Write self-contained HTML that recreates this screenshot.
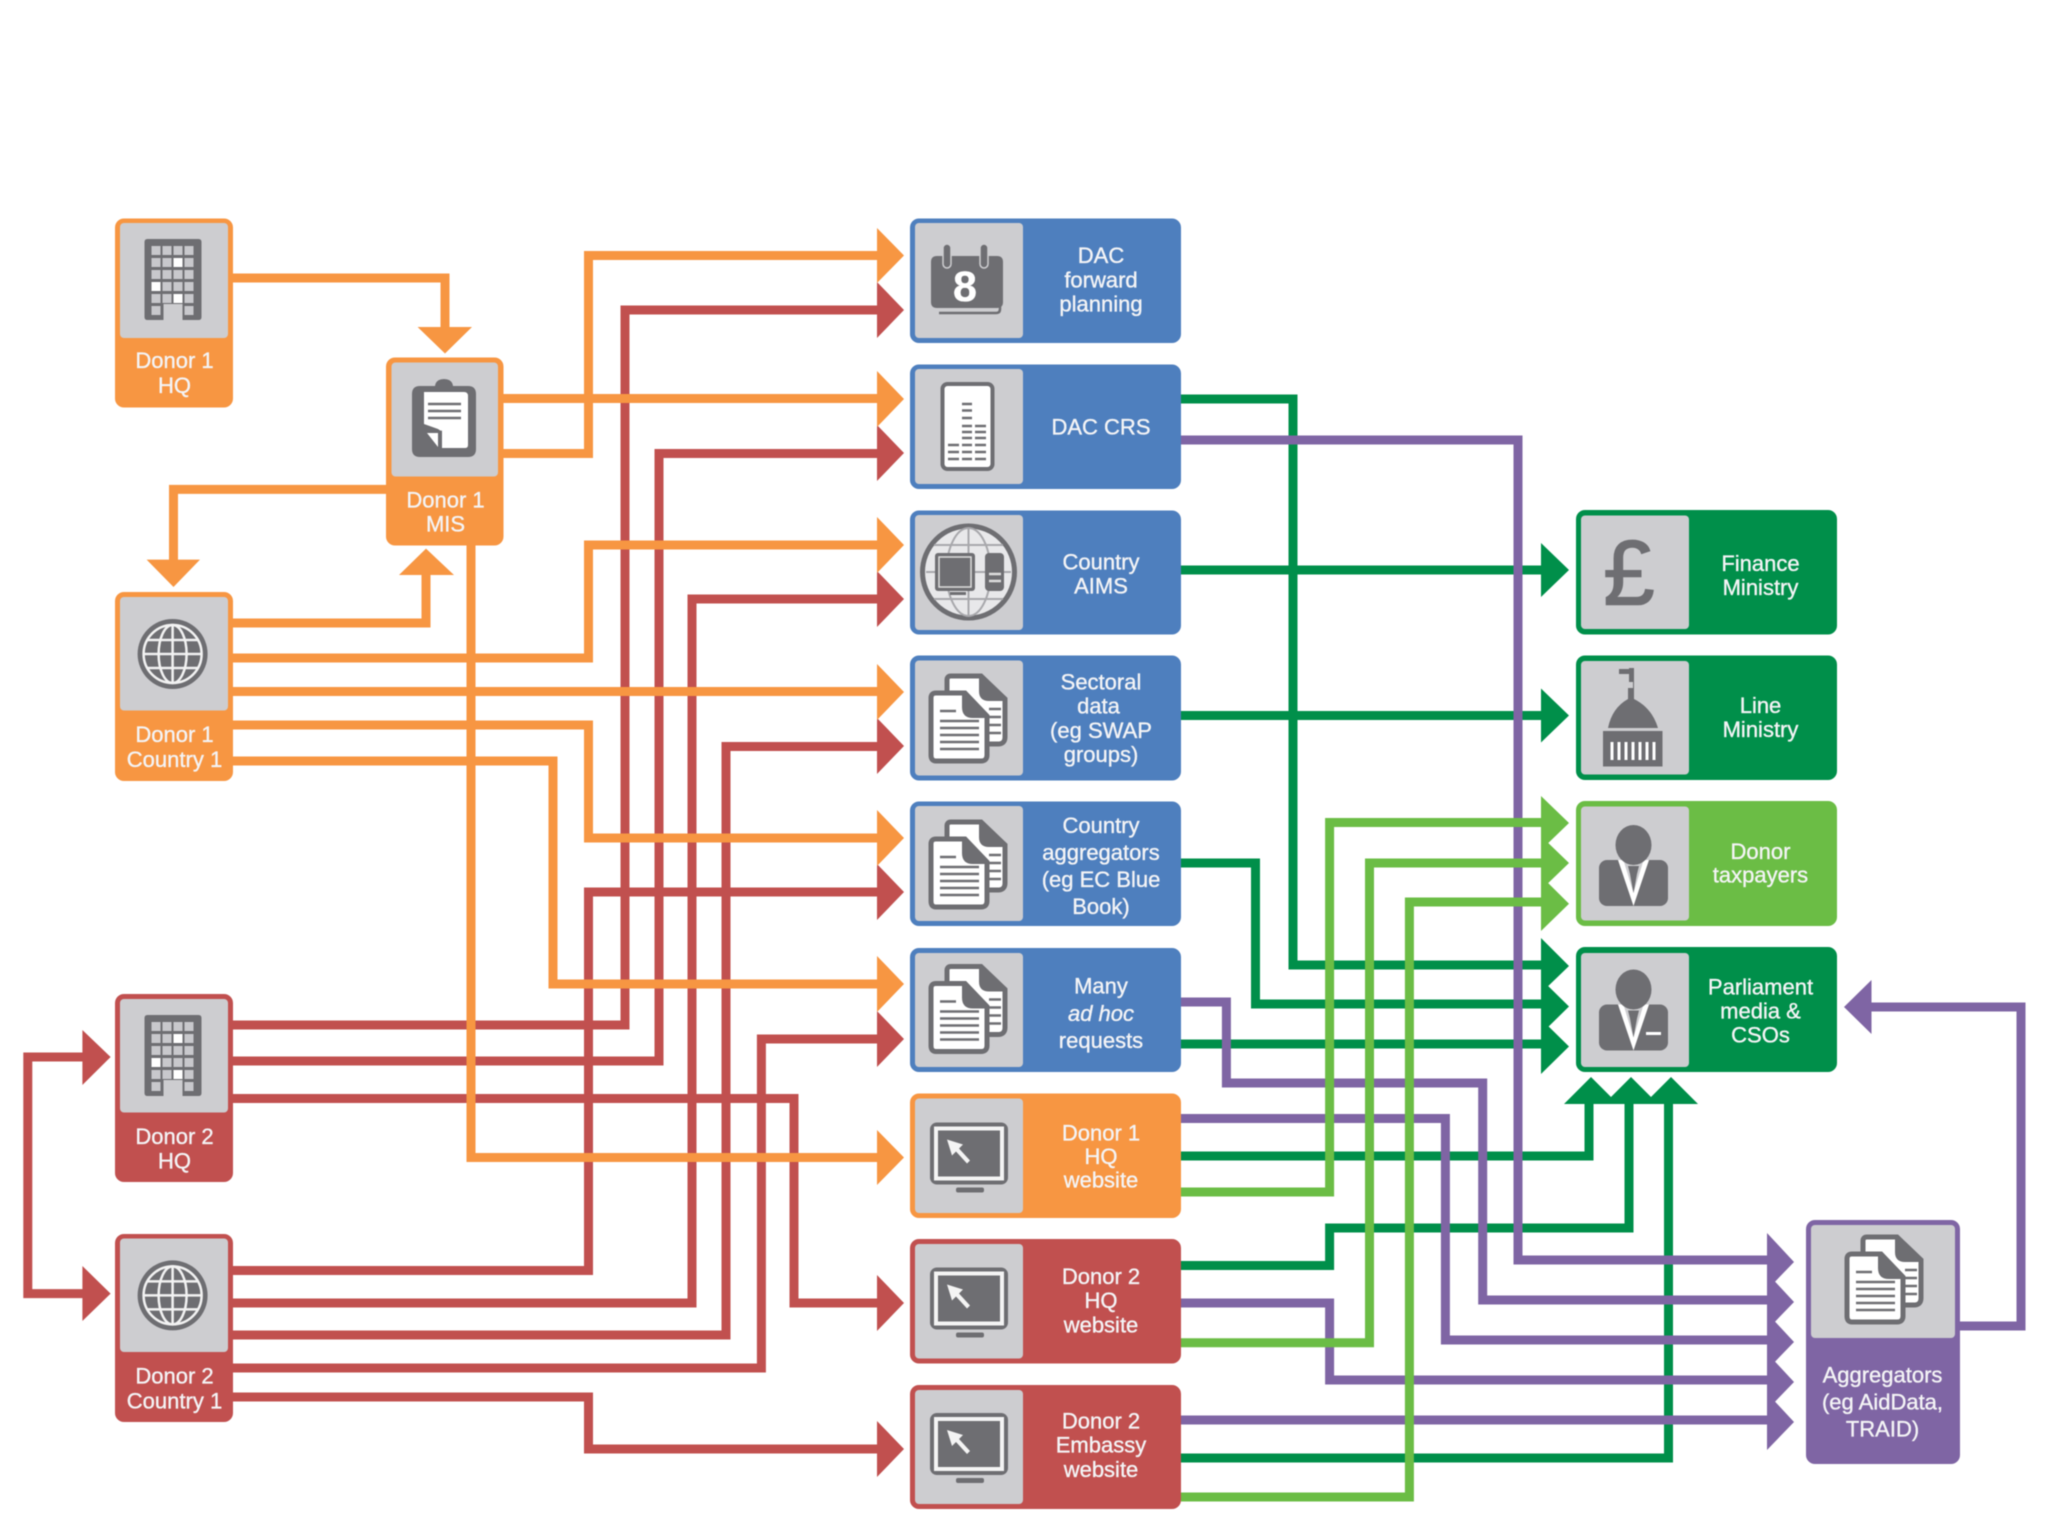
<!DOCTYPE html>
<html><head><meta charset="utf-8"><title>Donor data flows</title>
<style>
html,body{margin:0;padding:0;background:#fff;width:2048px;height:1536px;overflow:hidden}
svg{display:block;filter:blur(.55px)}
text{font-family:"Liberation Sans",sans-serif;font-size:22px;fill:#f4f4f6;stroke:#f4f4f6;stroke-width:.35;text-anchor:middle}
.l{fill:none;stroke-width:9;stroke-linejoin:miter}
</style></head><body>
<svg width="2048" height="1536" viewBox="0 0 2048 1536" xmlns="http://www.w3.org/2000/svg">
<defs>
<g id="bld"><path d="M3 0H54Q57 0 57 3V78Q57 81 54 81H38V65H19V81H3Q0 81 0 78V3Q0 0 3 0Z" fill="#6e6e72"/>
<g fill="#c8c8cc"><rect x="7" y="7" width="9" height="9"/><rect x="18" y="7" width="9" height="9"/><rect x="29" y="7" width="9" height="9"/><rect x="40" y="7" width="9" height="9"/><rect x="7" y="19" width="9" height="9"/><rect x="18" y="19" width="9" height="9"/><rect x="29" y="19" width="9" height="9" fill="#fff"/><rect x="40" y="19" width="9" height="9"/><rect x="7" y="31" width="9" height="9"/><rect x="18" y="31" width="9" height="9"/><rect x="29" y="31" width="9" height="9"/><rect x="40" y="31" width="9" height="9"/><rect x="7" y="43" width="9" height="9" fill="#fff"/><rect x="18" y="43" width="9" height="9"/><rect x="29" y="43" width="9" height="9"/><rect x="40" y="43" width="9" height="9"/><rect x="7" y="55" width="9" height="9"/><rect x="18" y="55" width="9" height="9"/><rect x="29" y="55" width="9" height="9" fill="#fff"/><rect x="40" y="55" width="9" height="9"/><rect x="7" y="67" width="9" height="9"/><rect x="40" y="67" width="9" height="9"/></g></g>
<g id="glb"><circle r="35" fill="#6e6e72"/><circle r="29" fill="#6e6e72" stroke="#f2f2f2" stroke-width="2.5"/><g fill="none" stroke="#f2f2f2" stroke-width="2.5"><path d="M0-29V29M-29 0H29M-25-14H25M-25 14H25"/><ellipse rx="14" ry="29"/></g></g>
<g id="doc"><path d="M22 1H52L76 24V62Q76 69 69 69H22Q18 69 18 64V5Q18 1 22 1Z" fill="#fff" stroke="#6e6e72" stroke-width="5"/><path d="M50 0L77 26H60Q50 26 50 16Z" fill="#6e6e72"/><path d="M60 34H72M60 42H72M60 50H72M60 58H72" stroke="#6e6e72" stroke-width="2.5"/>
<path d="M7 18H36L58 41V80Q58 86 52 86H7Q2 86 2 80V23Q2 18 7 18Z" fill="#fff" stroke="#6e6e72" stroke-width="5"/><path d="M33 17L59 43H44Q33 43 33 32Z" fill="#6e6e72"/><path d="M11 36H27M11 46H50M11 53H50M11 60H50M11 67H50M11 74H50" stroke="#6e6e72" stroke-width="2.5"/></g>
<g id="mon"><rect width="78" height="62" rx="7" fill="#6e6e72"/><rect x="6" y="6" width="66" height="50" fill="#6e6e72" stroke="#f4f4f4" stroke-width="4"/><path d="M17 17L33 22L29 26L40 38L37 41L26 29L22 33Z" fill="#f4f4f4"/><rect x="26" y="65" width="28" height="5" rx="2" fill="#6e6e72"/></g>
<g id="per"><rect x="0" y="15" width="69" height="46" rx="8" fill="#6e6e72"/><path d="M19 15H50L34.5 61Z" fill="#fff"/><path d="M25 17H44L34.5 48Z" fill="#cdcdd0"/><path d="M29 21H40L38 29L34.5 48L31 29Z" fill="#6e6e72"/><ellipse cx="34.5" cy="0" rx="18" ry="20" fill="#6e6e72"/></g>
</defs>
<rect width="2048" height="1536" fill="#fff"/>

<!-- dark green connectors -->
<g class="l" stroke="#008f4a">
<path d="M1181 399H1293V965H1545"/><path d="M1181 570H1545"/><path d="M1181 715.500H1545"/>
<path d="M1181 863H1255.500V1004H1545"/><path d="M1181 1044H1545"/>
<path d="M1181 1156H1589V1100"/><path d="M1181 1265.500H1329.600V1228H1629V1100"/><path d="M1181 1458H1668.500V1100"/>
</g>
<g fill="#008f4a">
<polygon points="1541,543 1569,570 1541,597"/><polygon points="1541,688.500 1569,715.500 1541,742.500"/>
<polygon points="1541,938 1569,966 1541,993"/><polygon points="1541,979 1569,1006.500 1541,1034"/><polygon points="1541,1019 1569,1046.500 1541,1074"/>
<polygon points="1564,1104 1591,1077 1618,1104"/><polygon points="1604,1104 1631,1077 1658,1104"/><polygon points="1644,1104 1671,1077 1698,1104"/>
</g>
<!-- purple connectors -->
<g class="l" stroke="#7f65a4">
<path d="M1181 440H1518V1260H1770"/><path d="M1181 1002H1226.400V1083H1482.700V1300H1770"/><path d="M1181 1118.500H1445.400V1340H1770"/>
<path d="M1181 1303H1329.600V1380H1770"/><path d="M1181 1420H1770"/><path d="M1960 1326H2021V1007H1868"/>
</g>
<g fill="#7f65a4">
<polygon points="1767,1233 1794,1262 1767,1290"/><polygon points="1767,1273 1794,1302 1767,1330"/><polygon points="1767,1313 1794,1342 1767,1370"/><polygon points="1767,1353 1794,1382 1767,1410"/><polygon points="1767,1393 1794,1422 1767,1450"/>
<polygon points="1871.500,980 1844,1007 1871.500,1034"/>
</g>
<!-- light green connectors -->
<g class="l" stroke="#6bbd45">
<path d="M1181 1192H1329.600V822.500H1545"/><path d="M1181 1342.700H1369.500V863H1545"/><path d="M1181 1497H1409.400V902H1545"/>
</g>
<g fill="#6bbd45">
<polygon points="1541,796 1569,823 1541,850"/><polygon points="1541,836 1569,863 1541,890"/><polygon points="1541,876 1569,903.700 1541,931"/>
</g>
<!-- red connectors -->
<g class="l" stroke="#c1504f">
<path d="M233 1025H625V310H880"/><path d="M233 1061H659V453.500H880"/><path d="M233 1098.500H794V1303H880"/>
<path d="M233 1270.500H588.500V892H880"/><path d="M233 1303H692V599H880"/><path d="M233 1335H726V746.500H880"/><path d="M233 1368H761.400V1039H880"/><path d="M233 1397H588.500V1449H880"/>
<path d="M88 1057H27.800V1293.600H88"/>
</g>
<g fill="#c1504f">
<polygon points="877,282 904,310 877,338"/><polygon points="877,425 904,453 877,481"/><polygon points="877,571 904,599 877,627"/><polygon points="877,718 904,746 877,774"/><polygon points="877,864 904,892 877,920"/><polygon points="877,1011 904,1039 877,1067"/><polygon points="877,1275 904,1303 877,1331"/><polygon points="877,1421 904,1449 877,1477"/>
<polygon points="82.400,1030 110.600,1057 82.400,1085"/><polygon points="82.400,1266 110.600,1293.600 82.400,1321"/>
</g>
<!-- orange connectors -->
<g class="l" stroke="#f79642">
<path d="M233 278H445V330"/><path d="M503 398.500H880"/><path d="M503 453.500H588.500V255.500H880"/>
<path d="M386 489.400H173.500V562"/><path d="M233 623H426V572"/>
<path d="M233 658H588.500V545H880"/><path d="M233 691.500H880"/><path d="M233 725H588.500V838H880"/><path d="M233 761H553V984H880"/>
<path d="M471 545V1157.500H880"/>
</g>
<g fill="#f79642">
<polygon points="417.600,327 445,353.500 472,327"/><polygon points="146.600,559.600 173.500,587 200,559.600"/><polygon points="399,575 426,548.600 454,575"/>
<polygon points="877,228 904,255.500 877,283"/><polygon points="877,371 904,399 877,427"/><polygon points="877,517 904,545 877,573"/><polygon points="877,664 904,692 877,720"/><polygon points="877,810 904,838 877,866"/><polygon points="877,956 904,984 877,1012"/><polygon points="877,1130 904,1157.500 877,1185"/>
</g>

<!-- left nodes -->
<rect x="115" y="218.500" width="118" height="189" rx="9" fill="#f79642"/><rect x="120" y="223" width="108" height="115" rx="4" fill="#cdcdd0"/>
<use href="#bld" x="144.500" y="239"/>
<text x="174.500" y="368">Donor 1</text><text x="174.500" y="393">HQ</text>

<rect x="386" y="357.500" width="117.500" height="188" rx="9" fill="#f79642"/><rect x="391.500" y="362.500" width="106.500" height="114" rx="4" fill="#cdcdd0"/>
<path d="M420 386H435Q436 379 444 379Q452 379 453 386H468Q476 386 476 394V449Q476 457 468 457H420Q412 457 412 449V394Q412 386 420 386Z" fill="#6e6e72"/>
<path d="M424 392H464Q468 392 468 396V445Q468 448 465 448H442V430Q442 432 438 429L424 424V392Z" fill="#fff"/><path d="M427 433L438 433L438 447Z" fill="#fff"/>
<path d="M428 404H461M428 411H461M428 418H461" stroke="#6e6e72" stroke-width="2.500"/>
<text x="445.500" y="507.500">Donor 1</text><text x="445.500" y="531.500">MIS</text>

<rect x="115" y="592" width="118" height="189" rx="9" fill="#f79642"/><rect x="120" y="597" width="108" height="113.500" rx="4" fill="#cdcdd0"/>
<use href="#glb" x="172.600" y="654"/>
<text x="174.500" y="742">Donor 1</text><text x="174.500" y="767">Country 1</text>

<rect x="115" y="994" width="118" height="188" rx="9" fill="#c1504f"/><rect x="120" y="999" width="108" height="113.500" rx="4" fill="#cdcdd0"/>
<use href="#bld" x="144.500" y="1015"/>
<text x="174.500" y="1144">Donor 2</text><text x="174.500" y="1168.500">HQ</text>

<rect x="115" y="1234" width="118" height="188" rx="9" fill="#c1504f"/><rect x="120" y="1238.500" width="108" height="113.500" rx="4" fill="#cdcdd0"/>
<use href="#glb" x="172.600" y="1295.400"/>
<text x="174.500" y="1383.500">Donor 2</text><text x="174.500" y="1408.500">Country 1</text>

<!-- middle nodes -->
<rect x="910" y="218.500" width="271" height="124.500" rx="9" fill="#4e7fbe"/><rect x="915" y="223" width="108" height="115" rx="4" fill="#cdcdd0"/>
<path d="M936 263H1000V309Q1000 313 996 313H939" fill="none" stroke="#6e6e72" stroke-width="2.500"/>
<path d="M937 256H997Q1003 256 1003 262V302Q1003 308 997 308H937Q931 308 931 302V262Q931 256 937 256Z" fill="#6e6e72"/>
<rect x="943" y="244" width="8" height="24" rx="4" fill="#6e6e72" stroke="#cdcdd0" stroke-width="1.500"/><rect x="980" y="244" width="8" height="24" rx="4" fill="#6e6e72" stroke="#cdcdd0" stroke-width="1.500"/>
<text x="965" y="301" style="font-size:43px;font-weight:bold;fill:#fff;stroke:#fff">8</text>
<text x="1101" y="263">DAC</text><text x="1101" y="287.500">forward</text><text x="1101" y="311.500">planning</text>

<rect x="910" y="364.500" width="271" height="124.500" rx="9" fill="#4e7fbe"/><rect x="915" y="369" width="108" height="115" rx="4" fill="#cdcdd0"/>
<rect x="942.500" y="384" width="50" height="85" rx="5" fill="#fff" stroke="#6e6e72" stroke-width="4"/>
<path d="M962 404H972M962 410.500H972M962 418H972M962 426H972M975 426H986M962 432H972M975 432H986M962 438H972M975 438H986M948 445H959M962 445H972M975 445H986M948 452H959M962 452H972M975 452H986M948 459H959M962 459H972M975 459H986" stroke="#6e6e72" stroke-width="2.500"/>
<text x="1101" y="434.500">DAC CRS</text>

<rect x="910" y="510.500" width="271" height="124" rx="9" fill="#4e7fbe"/><rect x="915" y="515" width="108" height="115" rx="4" fill="#cdcdd0"/>
<circle cx="968.500" cy="572" r="46" fill="#e8e8ea" stroke="#6e6e72" stroke-width="5"/>
<path d="M968.500 528V616M926 572H1011M934 545H1003M934 599H1003" stroke="#a8a8ac" stroke-width="2"/><ellipse cx="968.500" cy="572" rx="22" ry="44" fill="none" stroke="#a8a8ac" stroke-width="2"/>
<rect x="935" y="553" width="40" height="38" rx="3" fill="#6e6e72"/><rect x="939" y="557" width="32" height="30" fill="#6e6e72" stroke="#ddd" stroke-width="1.500"/>
<rect x="985" y="553" width="19" height="38" rx="4" fill="#6e6e72"/><path d="M989 574H1001M989 581H1001" stroke="#ddd" stroke-width="2.500"/><rect x="950" y="592" width="16" height="3" fill="#6e6e72"/>
<text x="1101" y="569.500">Country</text><text x="1101" y="593.500">AIMS</text>

<rect x="910" y="655.500" width="271" height="125" rx="9" fill="#4e7fbe"/><rect x="915" y="660.500" width="108" height="115" rx="4" fill="#cdcdd0"/>
<use href="#doc" x="929" y="675"/>
<text x="1101" y="689.500">Sectoral</text><text x="1098.500" y="713.500">data</text><text x="1101" y="738">(eg SWAP</text><text x="1101" y="762">groups)</text>

<rect x="910" y="801.500" width="271" height="124.500" rx="9" fill="#4e7fbe"/><rect x="915" y="806" width="108" height="115" rx="4" fill="#cdcdd0"/>
<use href="#doc" x="929" y="821"/>
<text x="1101" y="833">Country</text><text x="1101" y="860">aggregators</text><text x="1101" y="887">(eg EC Blue</text><text x="1101" y="914">Book)</text>

<rect x="910" y="948" width="271" height="124" rx="9" fill="#4e7fbe"/><rect x="915" y="953" width="108" height="114" rx="4" fill="#cdcdd0"/>
<use href="#doc" x="929" y="965.500"/>
<text x="1101" y="993.500">Many</text><text x="1101" y="1021" font-style="italic">ad hoc</text><text x="1101" y="1048">requests</text>

<rect x="910" y="1093.500" width="271" height="124.500" rx="9" fill="#f79642"/><rect x="915" y="1098.500" width="108" height="114.500" rx="4" fill="#cdcdd0"/>
<use href="#mon" x="930" y="1122.500"/>
<text x="1101" y="1140.500">Donor 1</text><text x="1101" y="1164">HQ</text><text x="1101" y="1187.500">website</text>

<rect x="910" y="1239" width="271" height="124.500" rx="9" fill="#c1504f"/><rect x="915" y="1244" width="108" height="114.500" rx="4" fill="#cdcdd0"/>
<use href="#mon" x="930" y="1267.500"/>
<text x="1101" y="1284">Donor 2</text><text x="1101" y="1308">HQ</text><text x="1101" y="1332.500">website</text>

<rect x="910" y="1385" width="271" height="124" rx="9" fill="#c1504f"/><rect x="915" y="1390" width="108" height="114" rx="4" fill="#cdcdd0"/>
<use href="#mon" x="930" y="1413"/>
<text x="1101" y="1428.500">Donor 2</text><text x="1101" y="1452.500">Embassy</text><text x="1101" y="1477">website</text>

<!-- right nodes -->
<rect x="1576" y="510" width="261" height="124.500" rx="9" fill="#008f4a"/><rect x="1581" y="515.500" width="108" height="113.500" rx="4" fill="#cdcdd0"/>
<text x="1629" y="604.500" style="font-size:92px;fill:#6e6e72;stroke:#6e6e72;stroke-width:1.500">£</text>
<text x="1760.500" y="571">Finance</text><text x="1760.500" y="595">Ministry</text>

<rect x="1576" y="655.500" width="261" height="124.500" rx="9" fill="#008f4a"/><rect x="1581" y="661" width="108" height="113.500" rx="4" fill="#cdcdd0"/>
<path d="M1603 766.500V731H1662.500V766.500Z" fill="#6e6e72"/><path d="M1608 728Q1612 708 1628 699V688H1633V682H1629V668H1634V699Q1652 708 1658 728Z" fill="#6e6e72"/><rect x="1619" y="669" width="14" height="5" fill="#6e6e72"/>
<path d="M1612 742V760M1619 742V760M1626 742V760M1633 742V760M1640 742V760M1647 742V760M1654 742V760" stroke="#fff" stroke-width="3"/>
<text x="1760.500" y="713">Line</text><text x="1760.500" y="737">Ministry</text>

<rect x="1576" y="801" width="261" height="125" rx="9" fill="#6bbd45"/><rect x="1581" y="806.500" width="108" height="114" rx="4" fill="#cdcdd0"/>
<use href="#per" x="1599" y="845"/>
<text x="1760.500" y="859">Donor</text><text x="1760.500" y="882.500">taxpayers</text>

<rect x="1576" y="947" width="261" height="125" rx="9" fill="#008f4a"/><rect x="1581" y="953" width="108" height="114" rx="4" fill="#cdcdd0"/>
<use href="#per" x="1599" y="989.500"/><rect x="1646" y="1032" width="15" height="3" fill="#fff"/>
<text x="1760.500" y="994.500">Parliament</text><text x="1760.500" y="1018.500">media &amp;</text><text x="1760.500" y="1042.500">CSOs</text>

<rect x="1806" y="1220" width="154" height="244" rx="9" fill="#7f65a4"/><rect x="1811" y="1225" width="144" height="113" rx="4" fill="#cdcdd0"/>
<use href="#doc" x="1845" y="1236"/>
<text x="1882.500" y="1382.500">Aggregators</text><text x="1882.500" y="1409.500">(eg AidData,</text><text x="1882.500" y="1436.500">TRAID)</text>
</svg>
</body></html>
